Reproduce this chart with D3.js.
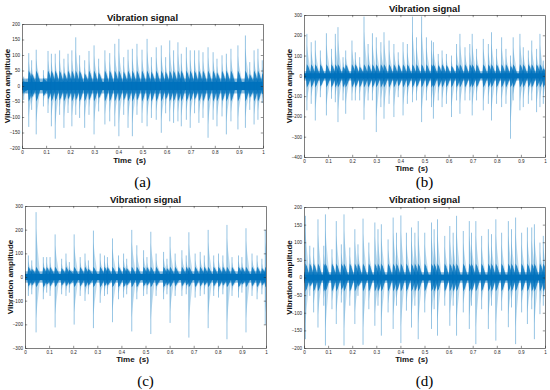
<!DOCTYPE html>
<html>
<head>
<meta charset="utf-8">
<script src="https://cdn.jsdelivr.net/npm/d3@7"></script>
<style>
  body { margin: 0; background: #fff; }
  svg { display: block; }
</style>
</head>
<body>
<div id="chart"></div>
<script>
// peaks: [time (s), top, bottom]
var peaksA = [[.007,30,-45],[.028,106,-132],[.040,83,-77],[.059,117,-156],[.089,51,-66],[.108,113,-87],
  [.122,104,-130],[.138,104,-170],[.156,115,-93],[.174,88,-135],[.191,104,-87],[.207,115,-130],
  [.223,157,-93],[.239,99,-103],[.260,83,-135],[.278,113,-93],[.299,131,-156],[.318,88,-82],
  [.344,115,-124],[.364,106,-114],[.385,136,-130],[.402,152,-162],[.422,93,-93],[.440,117,-135],
  [.458,120,-162],[.477,136,-93],[.498,117,-119],[.519,152,-130],[.537,93,-103],[.557,125,-109],
  [.578,131,-151],[.596,93,-88],[.613,147,-114],[.629,115,-119],[.647,141,-114],[.661,104,-130],
  [.682,125,-109],[.698,115,-135],[.716,115,-88],[.734,115,-119],[.751,109,-103],[.772,125,-167],
  [.793,109,-109],[.809,88,-130],[.830,99,-98],[.848,104,-156],[.867,120,-114],[.896,131,-140],
  [.927,163,-135],[.945,77,-77],[.963,115,-124],[.979,120,-109],[.997,83,-55]];

var peaksB = [[.012,207,-170],[.030,166,-138],[.047,174,-220],[.068,125,-105],[.093,210,-195],[.114,133,-113],
  [.130,207,-130],[.141,240,-228],[.162,92,-121],[.173,125,-187],[.199,174,-121],[.213,116,-121],
  [.231,92,-121],[.249,292,-216],[.266,157,-121],[.284,210,-121],[.300,190,-277],[.319,166,-154],
  [.332,215,-211],[.353,174,-138],[.373,157,-203],[.391,116,-105],[.411,166,-195],[.429,157,-138],
  [.450,292,-130],[.467,190,-121],[.488,293,-228],[.508,190,-121],[.529,174,-154],[.537,166,-211],
  [.557,108,-121],[.573,125,-154],[.591,108,-138],[.612,100,-203],[.633,157,-121],[.647,207,-187],
  [.668,141,-121],[.688,157,-121],[.698,207,-195],[.716,133,-121],[.744,182,-170],[.765,157,-138],
  [.778,215,-220],[.799,133,-138],[.820,190,-154],[.838,133,-138],[.857,100,-310],[.868,190,-121],
  [.896,207,-170],[.910,141,-154],[.931,125,-138],[.945,174,-121],[.965,133,-179],[.979,207,-154],
  [.993,75,-138]];

var peaksC = [[.014,91,-80],[.028,70,-73],[.046,274,-234],[.076,84,-94],[.090,84,-66],[.104,84,-80],
  [.125,180,-213],[.152,77,-73],[.170,99,-80],[.184,63,-66],[.204,180,-201],[.229,84,-80],
  [.249,99,-101],[.263,70,-73],[.284,196,-216],[.312,99,-109],[.330,91,-80],[.342,84,-73],
  [.363,163,-191],[.388,91,-94],[.409,99,-87],[.422,77,-73],[.443,199,-230],[.464,134,-94],
  [.492,113,-80],[.506,84,-73],[.522,191,-241],[.544,99,-80],[.575,106,-94],[.589,77,-73],
  [.602,170,-194],[.623,99,-80],[.651,113,-80],[.669,91,-73],[.680,189,-256],[.706,99,-87],
  [.727,106,-80],[.744,91,-73],[.760,199,-216],[.783,91,-80],[.803,99,-87],[.821,91,-73],
  [.838,220,-263],[.859,84,-80],[.886,91,-87],[.900,84,-66],[.917,206,-234],[.942,99,-80],
  [.963,91,-94],[.983,77,-73],[.997,199,-201]];

var peaksD = [[.006,175,-175],[.024,90,-52],[.040,85,-99],[.058,165,-142],[.082,90,-80],[.089,179,-193],
  [.116,80,-90],[.134,160,-132],[.155,94,-71],[.166,179,-193],[.190,85,-80],[.211,137,-132],
  [.224,94,-52],[.245,167,-191],[.269,99,-90],[.294,156,-137],[.307,137,-80],[.321,151,-165],
  [.349,108,-99],[.370,170,-146],[.384,127,-80],[.402,176,-186],[.425,127,-94],[.446,142,-142],
  [.460,127,-80],[.474,160,-175],[.501,127,-99],[.529,156,-146],[.540,137,-90],[.554,165,-165],
  [.584,118,-80],[.605,146,-137],[.619,127,-80],[.633,175,-165],[.661,132,-99],[.686,160,-146],
  [.695,127,-80],[.713,160,-189],[.737,118,-90],[.765,137,-146],[.778,123,-80],[.796,165,-179],
  [.820,127,-94],[.848,160,-141],[.861,137,-85],[.878,170,-189],[.903,127,-99],[.927,142,-132],
  [.945,142,-90],[.956,151,-175],[.979,99,-104],[.993,118,-80]];

// dense background level and burst level around each impact
var bandLevels = [24, 23, 24, 15];
var burstLevels = [50, 57, 43, 40];
var yDomains = [[-200, 200], [-400, 300], [-300, 300], [-200, 200]];
var yTickSteps = [50, 100, 100, 50];
var xTickValues = [0, 0.1, 0.2, 0.3, 0.4, 0.5, 0.6, 0.7, 0.8, 0.9, 1];
var captions = ["(a)", "(b)", "(c)", "(d)"];
var titleText = "Vibration signal";
var xLabelText = "Time  (s)";
var yLabelText = "Vibration amplitude";

var allPeaks = [peaksA, peaksB, peaksC, peaksD];

var width = 550, height = 390;
var blue = "#0072BD";
var axisColor = "#262626";

var boxes = [
  {l: 22, r: 263, t: 24, b: 148, titleY: 21, labX: 7, timeY: 163, capY: 187},
  {l: 304, r: 545, t: 15, b: 157, titleY: 12, labX: 289, timeY: 171, capY: 187},
  {l: 25, r: 266, t: 206, b: 348, titleY: 203, labX: 10, timeY: 362, capY: 386},
  {l: 304, r: 545, t: 207, b: 348, titleY: 203, labX: 289, timeY: 362, capY: 386}
];

var svg = d3.select("#chart").append("svg")
  .attr("width", width)
  .attr("height", height);

boxes.forEach(function(box, i) {
  var peaks = allPeaks[i];
  var band = bandLevels[i], burst = burstLevels[i];

  var x = d3.scaleLinear().domain([0, 1]).range([box.l, box.r]);
  var y = d3.scaleLinear().domain(yDomains[i]).range([box.b, box.t]);
  var yTicks = d3.range(yDomains[i][0], yDomains[i][1] + 1, yTickSteps[i]);

  svg.append("clipPath").attr("id", "clip" + i)
    .append("rect")
    .attr("x", box.l).attr("y", box.t)
    .attr("width", box.r - box.l).attr("height", box.b - box.t);

  var g = svg.append("g").attr("clip-path", "url(#clip" + i + ")");

  // dense background noise
  g.append("rect")
    .attr("x", x(0)).attr("width", x(1) - x(0))
    .attr("y", y(band)).attr("height", y(-band) - y(band))
    .attr("fill", blue).attr("opacity", 0.45);
  g.append("rect")
    .attr("x", x(0)).attr("width", x(1) - x(0))
    .attr("y", y(band * 0.55)).attr("height", y(-band * 0.55) - y(band * 0.55))
    .attr("fill", blue);

  // light envelope after each impact
  var halo = d3.area()
    .x(function(d) { return x(d[0]); })
    .y0(function(d) { return y(d[2]); })
    .y1(function(d) { return y(d[1]); });

  g.selectAll(".halo")
    .data(peaks)
    .enter().append("path")
    .attr("class", "halo")
    .attr("d", function(d) {
      return halo([
        [d[0] - 0.002, band, -band],
        [d[0], d[1] * 0.75, d[2] * 0.75],
        [d[0] + 0.005, d[1] * 0.5, d[2] * 0.5],
        [d[0] + 0.015, band, -band]
      ]);
    })
    .attr("fill", blue)
    .attr("opacity", 0.25);

  // dark burst around each impact
  g.selectAll(".burst")
    .data(peaks)
    .enter().append("path")
    .attr("class", "burst")
    .attr("d", function(d) {
      var a = Math.min(burst, d[1] * 0.5), c = Math.max(-burst, d[2] * 0.5);
      return halo([
        [d[0] - 0.004, band * 0.55, -band * 0.55],
        [d[0], a, c],
        [d[0] + 0.006, a * 0.8, c * 0.8],
        [d[0] + 0.016, band * 0.55, -band * 0.55]
      ]);
    })
    .attr("fill", blue)
    .attr("opacity", 0.8);

  // the peak line itself
  g.selectAll(".peak")
    .data(peaks)
    .enter().append("line")
    .attr("class", "peak")
    .attr("x1", function(d) { return x(d[0]); })
    .attr("x2", function(d) { return x(d[0]); })
    .attr("y1", function(d) { return y(d[1]); })
    .attr("y2", function(d) { return y(d[2]); })
    .attr("stroke", blue)
    .attr("stroke-width", 0.9)
    .attr("opacity", 0.45);

  // axes, matlab style: box with inward ticks
  var tickLen = 2.2;
  var axB = svg.append("g").attr("transform", "translate(0," + box.b + ")")
    .call(d3.axisBottom(x).tickValues(xTickValues).tickSizeInner(-tickLen).tickSizeOuter(0).tickPadding(2.5)
      .tickFormat(function(d) { return d3.format("~g")(d); }));
  var axT = svg.append("g").attr("transform", "translate(0," + box.t + ")")
    .call(d3.axisTop(x).tickValues(xTickValues).tickSizeInner(-tickLen).tickSizeOuter(0).tickFormat(""));
  var axL = svg.append("g").attr("transform", "translate(" + box.l + ",0)")
    .call(d3.axisLeft(y).tickValues(yTicks).tickSizeInner(-tickLen).tickSizeOuter(0).tickPadding(2)
      .tickFormat(d3.format("d")));
  var axR = svg.append("g").attr("transform", "translate(" + box.r + ",0)")
    .call(d3.axisRight(y).tickValues(yTicks).tickSizeInner(-tickLen).tickSizeOuter(0).tickFormat(""));

  [axB, axT, axL, axR].forEach(function(ax) {
    ax.select(".domain").attr("stroke", axisColor).attr("stroke-width", 0.6);
    ax.selectAll(".tick line").attr("stroke", axisColor).attr("stroke-width", 0.5);
    ax.selectAll("text")
      .attr("fill", axisColor)
      .style("font-family", "'Liberation Sans', Arial, sans-serif")
      .style("font-size", "4.6px");
  });
  // drop the end ticks that sit on the box
  axT.selectAll(".tick").filter(function(d) { return d === 0 || d === 1; }).select("line").remove();
  axR.selectAll(".tick").filter(function(d, j) { return j === 0 || j === yTicks.length - 1; }).select("line").remove();

  svg.append("text")
    .attr("x", (box.l + box.r) / 2)
    .attr("y", box.titleY)
    .attr("text-anchor", "middle")
    .style("font-family", "'Liberation Sans', Arial, sans-serif")
    .style("font-weight", "bold")
    .style("font-size", "9.5px")
    .attr("fill", "#111")
    .text(titleText);

  svg.append("text")
    .attr("x", (box.l + box.r) / 2 - 13)
    .attr("y", box.timeY)
    .attr("text-anchor", "middle")
    .style("font-family", "'Liberation Sans', Arial, sans-serif")
    .style("font-weight", "bold")
    .style("font-size", "8px")
    .style("white-space", "pre")
    .attr("fill", "#111")
    .text(xLabelText);

  svg.append("text")
    .attr("transform", "translate(" + box.labX + "," + ((box.t + box.b) / 2) + ") rotate(-90)")
    .attr("dy", "0.35em")
    .attr("text-anchor", "middle")
    .style("font-family", "'Liberation Sans', Arial, sans-serif")
    .style("font-weight", "bold")
    .style("font-size", "8px")
    .attr("fill", "#111")
    .text(yLabelText);

  svg.append("text")
    .attr("x", (box.l + box.r) / 2)
    .attr("y", box.capY)
    .attr("text-anchor", "middle")
    .style("font-family", "'Liberation Serif', 'DejaVu Serif', serif")
    .style("font-size", "15px")
    .attr("fill", "#000")
    .text(captions[i]);
});
</script>
</body>
</html>
